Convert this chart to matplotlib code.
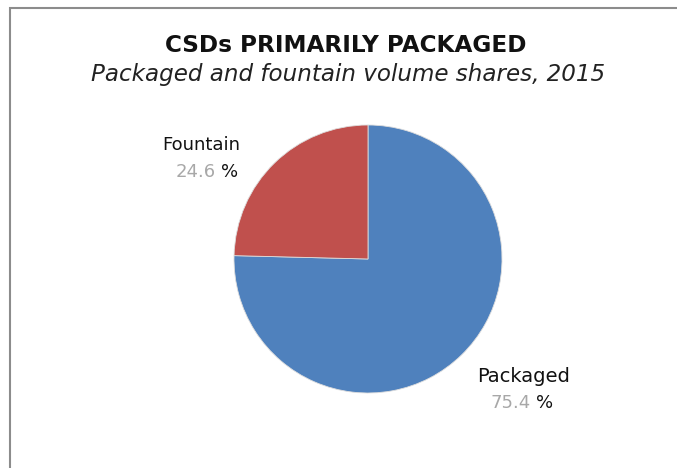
import matplotlib
matplotlib.use("Agg")
import matplotlib.pyplot as plt
from matplotlib.patches import Rectangle

categories = ["Packaged", "Fountain"]
shares = [75.4, 24.6]
colors = ["#4F81BD", "#C0504D"]

W, H = 677, 468
fig = plt.figure(figsize=(W / 100, H / 100), dpi=100)
fig.patch.set_facecolor("white")

# border frame
fig.add_artist(Rectangle((10 / W, -0.1), 1.1, (H - 8) / H + 0.1, transform=fig.transFigure,
                         fill=False, edgecolor="#8c8c8c", linewidth=1.5))

cx, cy, r = 368, 259, 134
ax = fig.add_axes([(cx - r) / W, (H - cy - r) / H, 2 * r / W, 2 * r / H])
ax.pie(shares, colors=colors, startangle=90, counterclock=False,
       wedgeprops=dict(linewidth=0.6, edgecolor="#dddddd"))
ax.set_xlim(-1, 1)
ax.set_ylim(-1, 1)
ax.set_aspect("equal")
ax.axis("off")

def fy(y):
    return 1 - y / H

fig.text(346 / W, fy(45), "CSDs PRIMARILY PACKAGED", ha="center", va="center",
         fontsize=16.7, fontweight="bold", color="#111111")
fig.text(348 / W, fy(75), "Packaged and fountain volume shares, 2015", ha="center", va="center",
         fontsize=16.6, fontstyle="italic", color="#222222")

lab_fs = 13
fig.text(201 / W, fy(145), categories[1], ha="center", va="center", fontsize=lab_fs, color="#111111")
fig.text(216 / W, fy(172), f"{shares[1]:.1f}", ha="right", va="center", fontsize=lab_fs, color="#a8a8a8")
fig.text(221 / W, fy(172), "%", ha="left", va="center", fontsize=lab_fs, color="#111111")
fig.text(524 / W, fy(377), categories[0], ha="center", va="center", fontsize=lab_fs + 1, color="#111111")
fig.text(531 / W, fy(403), f"{shares[0]:.1f}", ha="right", va="center", fontsize=lab_fs, color="#a8a8a8")
fig.text(536 / W, fy(403), "%", ha="left", va="center", fontsize=lab_fs, color="#111111")

fig.savefig("out.png", dpi=100, facecolor="white")
